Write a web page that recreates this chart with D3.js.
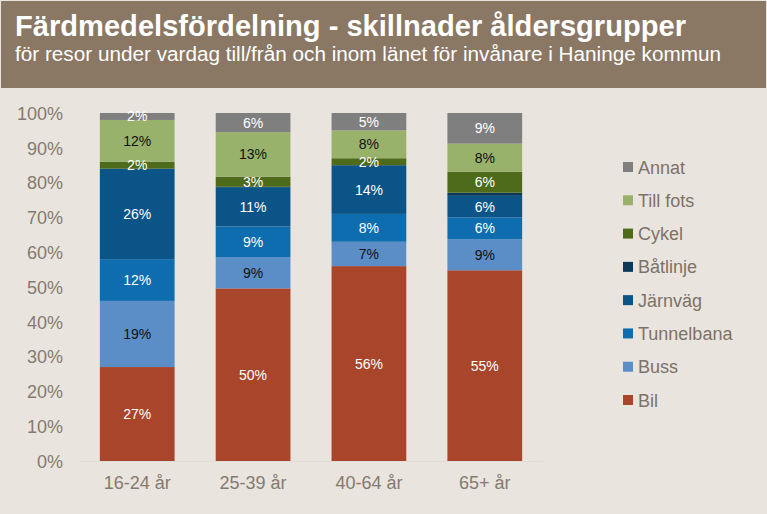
<!DOCTYPE html>
<html><head><meta charset="utf-8">
<script src="https://cdn.jsdelivr.net/npm/d3@7/dist/d3.min.js"></script>
<style>body{margin:0;background:#EAE4DE;}svg{display:block;font-family:"Liberation Sans",Arial,sans-serif;}</style>
</head><body>
<svg id="c" width="767" height="514"></svg>
<script>
const categories = ["16-24 år", "25-39 år", "40-64 år", "65+ år"];
const seriesNames = ["Bil", "Buss", "Tunnelbana", "Järnväg", "Båtlinje", "Cykel", "Till fots", "Annat"];
const bil        = [27, 49.6, 56, 54.8];
const buss       = [19, 8.9, 7, 8.9];
const tunnelbana = [12, 8.9, 8, 6.3];
const jarnvag    = [26, 11.3, 14, 6.2];
const batlinje   = [0, 0.1, 0, 0.9];
const cykel      = [2, 2.9, 2, 6.0];
const tillFots   = [12, 12.8, 8, 8.1];
const annat      = [2, 5.5, 5, 8.8];
const yTicks = [0, 10, 20, 30, 40, 50, 60, 70, 80, 90, 100];
const colors = ["#A8452B", "#5B8DC6", "#0D6DAE", "#0B5488", "#0C3957", "#4D6B1B", "#98B16B", "#7F7F7F"];
const labelColors = ["#fff", "#111", "#fff", "#fff", "#fff", "#fff", "#111", "#fff"];

const seriesValues = [bil, buss, tunnelbana, jarnvag, batlinje, cykel, tillFots, annat];
const table = categories.map((c, i) => {
  const row = {cat: c};
  seriesNames.forEach((s, j) => row[s] = seriesValues[j][i]);
  return row;
});

const svg = d3.select("#c");
svg.append("rect").attr("x",0).attr("y",0).attr("width",767).attr("height",514).attr("fill","#EAE4DE");
svg.append("rect").attr("x",1).attr("y",1).attr("width",765).attr("height",87).attr("fill","#8A7764");
svg.append("text").attr("x",15).attr("y",36).attr("fill","#fff").attr("font-weight","bold")
  .attr("font-size",29).attr("textLength",671).attr("lengthAdjust","spacingAndGlyphs")
  .text("Färdmedelsfördelning - skillnader åldersgrupper");
svg.append("text").attr("x",15).attr("y",61).attr("fill","#fff")
  .attr("font-size",20).attr("textLength",706).attr("lengthAdjust","spacingAndGlyphs")
  .text("för resor under vardag till/från och inom länet för invånare i Haninge kommun");

const x = d3.scaleBand().domain(categories).range([79, 543]).paddingInner(0.355).paddingOuter(0.18);
const y = d3.scaleLinear().domain([0, 100]).range([461, 113]);

svg.append("line").attr("x1",79).attr("x2",543).attr("y1",y(0)+0.5).attr("y2",y(0)+0.5)
  .attr("stroke","#E2DCD6").attr("stroke-width",1);

const stack = d3.stack().keys(seriesNames)(table);

const g = svg.append("g");
stack.forEach((layer, j) => {
  g.selectAll(null).data(layer).enter().append("rect")
    .attr("x", d => x(d.data.cat))
    .attr("width", x.bandwidth())
    .attr("y", d => y(d[1]))
    .attr("height", d => y(d[0]) - y(d[1]))
    .attr("fill", colors[j]);
});
stack.forEach((layer, j) => {
  g.selectAll(null).data(layer.filter(d => d[1] - d[0] >= 1.5)).enter().append("text")
    .attr("x", d => x(d.data.cat) + x.bandwidth() / 2)
    .attr("y", d => (y(d[0]) + y(d[1])) / 2 + 5)
    .attr("text-anchor", "middle")
    .attr("font-size", 14)
    .attr("fill", labelColors[j])
    .text(d => Math.round(d[1] - d[0]) + "%");
});

const yAxis = svg.append("g").attr("transform","translate(63,0)")
  .call(d3.axisLeft(y).tickValues(yTicks).tickSize(0).tickPadding(0).tickFormat(d => d + "%"));
yAxis.select(".domain").remove();
yAxis.selectAll("text").attr("font-size",18).attr("fill","#857A70")
  .attr("font-family","Liberation Sans, Arial, sans-serif").attr("dy","0.35em");

const xAxis = svg.append("g").attr("transform","translate(0,"+ (y(0)) +")")
  .call(d3.axisBottom(x).tickSize(0).tickPadding(15));
xAxis.select(".domain").remove();
xAxis.selectAll("text").attr("font-size",18).attr("fill","#857A70")
  .attr("font-family","Liberation Sans, Arial, sans-serif");

const legendOrder = seriesNames.map((s, j) => ({name: s, color: colors[j]})).reverse();
const lg = svg.append("g");
const ly = d3.scaleLinear().domain([0, legendOrder.length - 1]).range([167, 400]);
legendOrder.forEach((d, i) => {
  lg.append("rect").attr("x", 623).attr("y", ly(i) - 5).attr("width", 10).attr("height", 10).attr("fill", d.color);
  lg.append("text").attr("x", 638).attr("y", ly(i) + 6.5).attr("font-size", 18).attr("fill", "#7D7266").text(d.name);
});
</script>
</body></html>
